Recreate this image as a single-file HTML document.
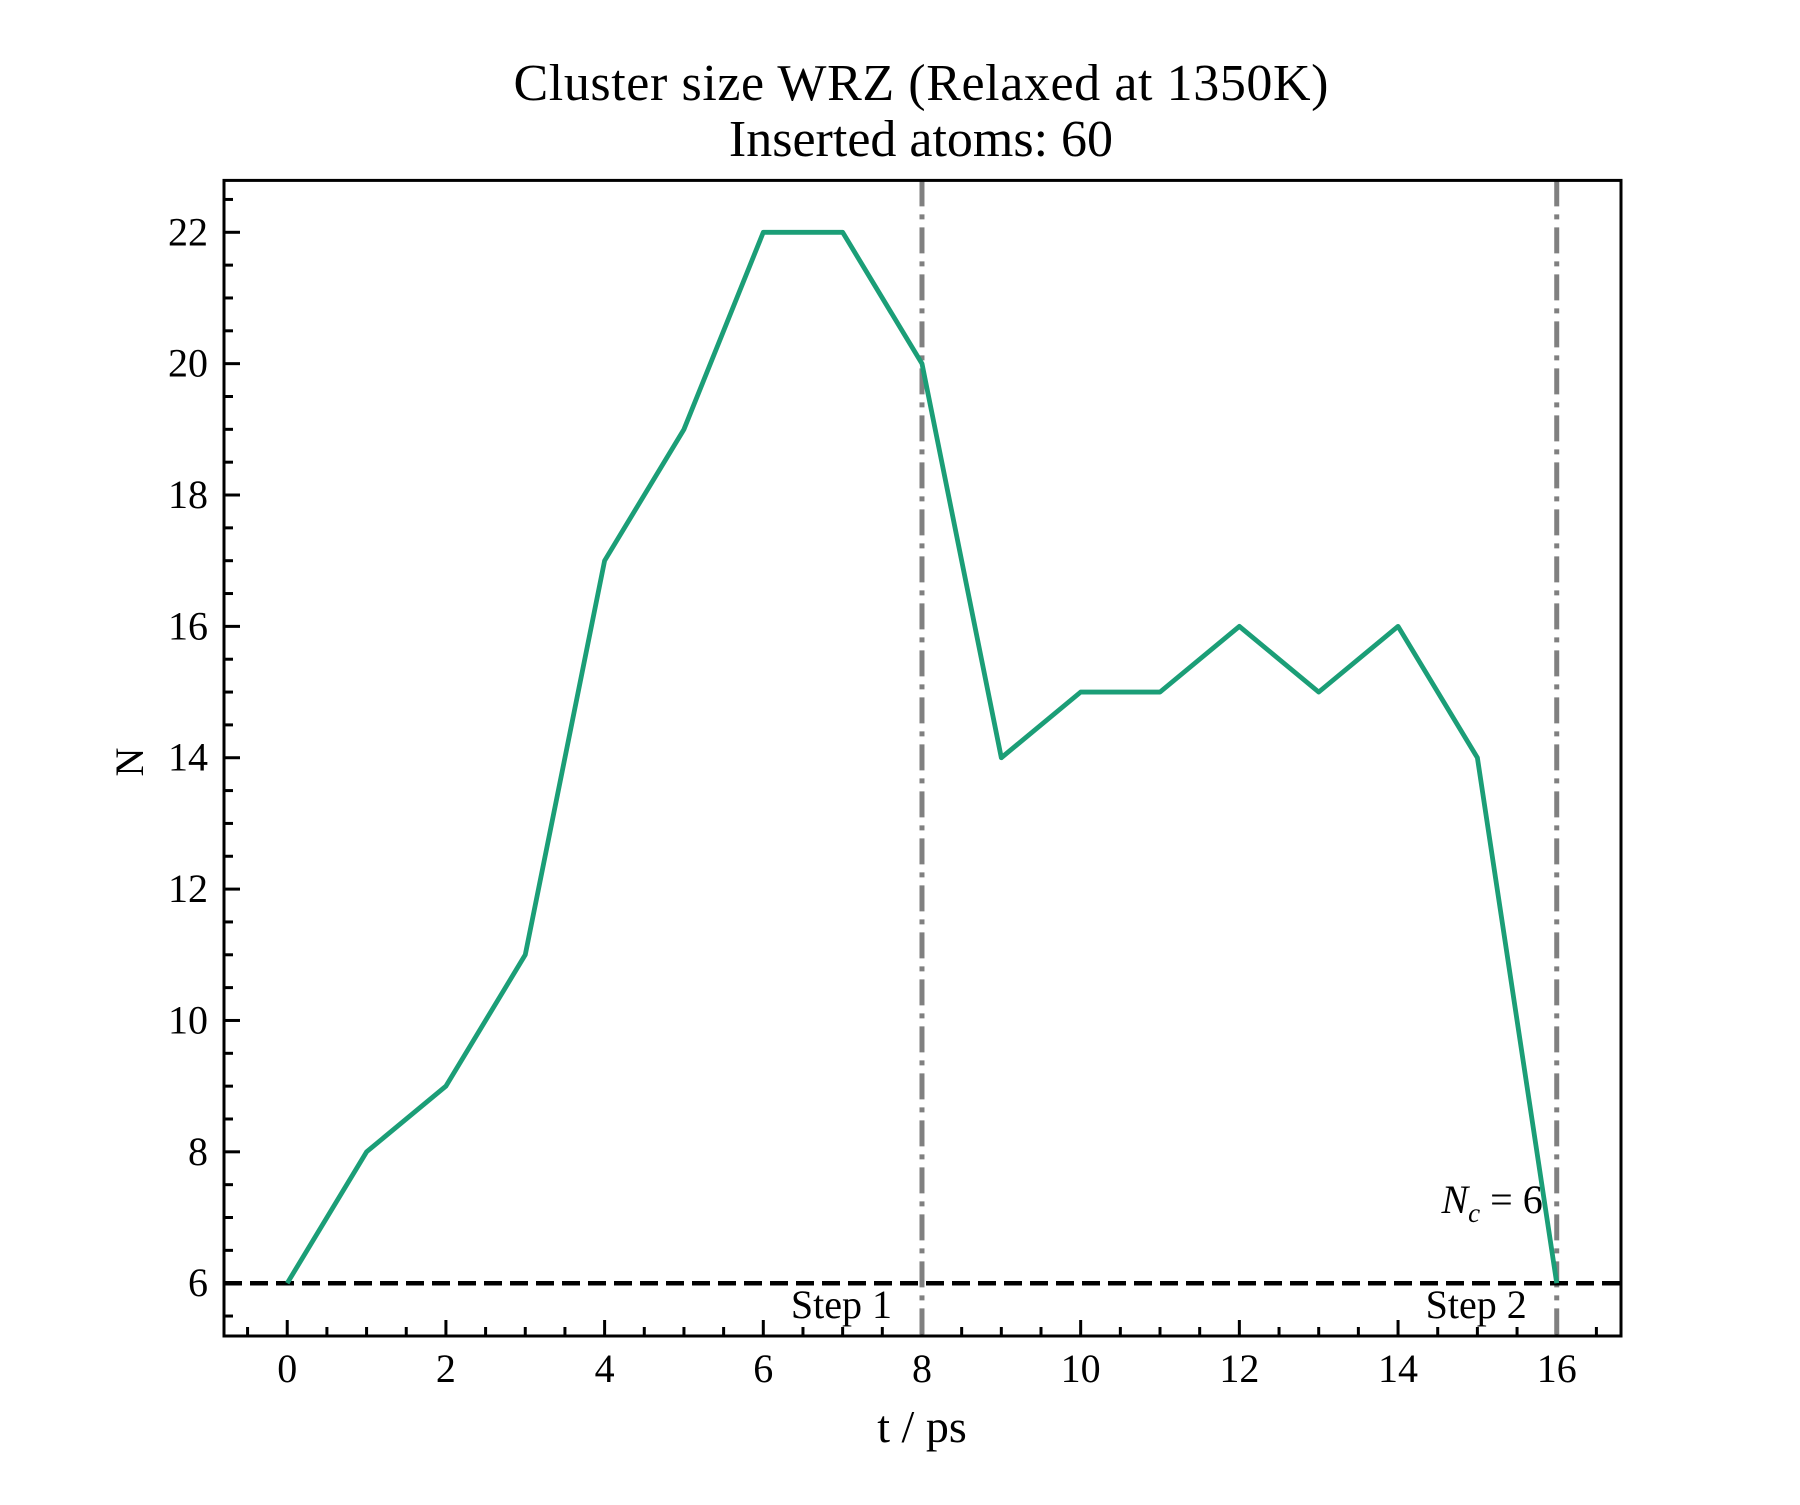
<!DOCTYPE html>
<html><head><meta charset="utf-8"><style>
body{margin:0;background:#fff}
svg text{font-family:"Liberation Serif",serif;fill:#000}
</style></head><body>
<svg id="chart" width="1800" height="1500">
<text x="921" y="100" font-size="52" text-anchor="middle" textLength="815">Cluster size WRZ (Relaxed at 1350K)</text>
<text x="921" y="156" font-size="52" text-anchor="middle">Inserted atoms: 60</text>
<text x="922" y="1442" font-size="46" text-anchor="middle">t / ps</text>
<text x="0" y="0" font-size="40" text-anchor="middle" transform="translate(143,762) rotate(-90)">N</text>
<g id="marks"></g>
</svg>
<script>
const times=[0,1,2,3,4,5,6,7,8,9,10,11,12,13,14,15,16];
const sizes=[6,8,9,11,17,19,22,22,20,14,15,15,16,15,16,14,6];
const xTicks=[0,2,4,6,8,10,12,14,16];
const yTicks=[6,8,10,12,14,16,18,20,22];
const stepLines=[8,16];
const stepLabels=["Step 1","Step 2"];
const critical=6;
const L=224,R=1621,T=180.4,B=1336,xmin=-0.797,xmax=16.81,ymin=5.196,ymax=22.79;
const X=v=>L+(v-xmin)/(xmax-xmin)*(R-L);
const Y=v=>B-(v-ymin)/(ymax-ymin)*(B-T);
const NS="http://www.w3.org/2000/svg";
const g=document.getElementById('marks');
function mk(tag,attrs){const e=document.createElementNS(NS,tag);for(const k in attrs)e.setAttribute(k,attrs[k]);g.appendChild(e);return e;}
for(let v=-0.5;v<=xmax;v+=0.5){const major=Math.abs(v%2)<1e-9;
 const t=mk('line',{x1:X(v),x2:X(v),y1:B,y2:B-(major?16:9),stroke:'#000','stroke-width':3});
 
 }
for(let v=5.5;v<=ymax;v+=0.5){const major=Math.abs(v%2)<1e-9;
 const t=mk('line',{x1:L,x2:L+(major?16:9),y1:Y(v),y2:Y(v),stroke:'#000','stroke-width':3});
 
 }
xTicks.forEach(v=>{const t=mk('text',{x:X(v),y:B+46,'font-size':40,'text-anchor':'middle'});t.textContent=v;
 
 });
yTicks.forEach(v=>{const t=mk('text',{x:L-16,y:Y(v)+13,'font-size':40,'text-anchor':'end'});t.textContent=v;
 
 });
stepLines.forEach((s,i)=>{const l=mk('line',{x1:X(s),x2:X(s),y1:T,y2:B,stroke:'#808080','stroke-width':5,'stroke-dasharray':'26 8 5 8'});
 
 
 const t=mk('text',{x:X(s)-30,y:Y(critical)+35,'font-size':40,'text-anchor':'end'});t.textContent=stepLabels[i];
 
 });
const c=mk('line',{x1:L,x2:R,y1:Y(critical),y2:Y(critical),stroke:'#000','stroke-width':4.5,'stroke-dasharray':'18 8'});


const ct=mk('text',{x:X(16)-14,y:Y(critical)-70,'font-size':40,'text-anchor':'end','font-style':'italic'});
ct.innerHTML='N<tspan font-size="27" dy="9">c</tspan><tspan dy="-9" font-style="normal"> = 6</tspan>';


const p=mk('polyline',{points:times.map((t,i)=>X(t)+','+Y(sizes[i])).join(' '),fill:'none',stroke:'#1b9e77','stroke-width':4.8,'stroke-linejoin':'round'});


const f=mk('rect',{x:L,y:T,width:R-L,height:B-T,fill:'none',stroke:'#000','stroke-width':3});


</script>
</body></html>
